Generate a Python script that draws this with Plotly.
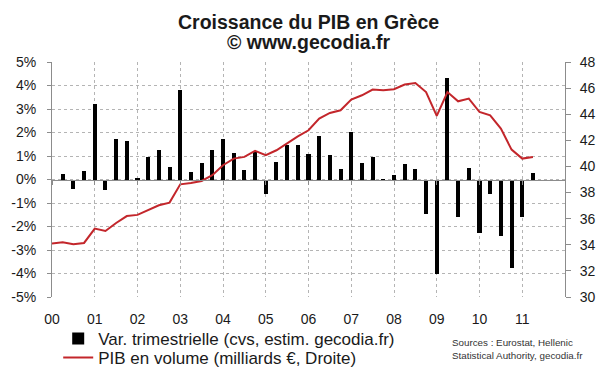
import plotly.graph_objects as go

# ---- Data ----
years = list(range(2000, 2012))
quarters = [f"{y}T{q}" for y in years for q in range(1, 5)][:46]  # 2000T1 .. 2011T2
year_ticks = [f"{y}T1" for y in years]
year_labels = ["00", "01", "02", "03", "04", "05", "06", "07", "08", "09", "10", "11"]

growth_pct = [None, 0.25, -0.42, 0.36, 3.20, -0.46, 1.74, 1.64, 0.08, 0.96, 1.24, 0.53,
              3.82, 0.33, 0.70, 1.24, 1.74, 1.14, 0.42, 1.17, -0.63, 0.75, 1.46, 1.46,
              1.10, 1.84, 1.06, 0.43, 2.02, 0.70, 0.96, -0.08, 0.18, 0.66, 0.43, -1.45,
              -4.03, 4.34, -1.59, 0.49, -2.27, -0.60, -2.40, -3.75, -1.59, 0.28]

gdp_bn = [34.10, 34.20, 34.04, 34.14, 35.24, 35.06, 35.67, 36.20, 36.29, 36.64, 37.03, 37.23,
          38.63, 38.73, 38.89, 39.33, 40.09, 40.60, 40.73, 41.19, 40.86, 41.24, 41.80, 42.31,
          42.77, 43.67, 44.10, 44.30, 45.12, 45.45, 45.89, 45.83, 45.91, 46.27, 46.39, 45.70,
          43.87, 45.70, 44.99, 45.20, 44.17, 43.92, 42.90, 41.29, 40.60, 40.73]

left_ticks = [5, 4, 3, 2, 1, 0, -1, -2, -3, -4, -5]
left_labels = ["5%", "4%", "3%", "2%", "1%", "0%", "-1%", "-2%", "-3%", "-4%", "-5%"]
right_ticks = [30, 32, 34, 36, 38, 40, 42, 44, 46, 48]

FONT = "Liberation Sans, Arial, sans-serif"
AXIS_GRAY = "#8c8c8c"
GRID_GRAY = "#b4b4b4"
RED = "#c3262b"
TXT = "#1a1a1a"

fig = go.Figure()
fig.add_trace(go.Bar(
    x=quarters, y=growth_pct, name="Var. trimestrielle (cvs, estim. gecodia.fr)",
    marker=dict(color="black", line=dict(width=0)), width=0.38,
    xaxis="x", yaxis="y", legend="legend",
))
fig.add_trace(go.Scatter(
    x=quarters, y=gdp_bn, name="PIB en volume (milliards €, Droite)",
    mode="lines", line=dict(color=RED, width=2),
    xaxis="x2", yaxis="y2", legend="legend2",
))

common_x = dict(type="category", categoryorder="array", categoryarray=quarters,
                range=[0, 48], tickvals=year_ticks, ticktext=year_labels, tickangle=0)

legend_common = dict(xref="container", yref="container", x=0.097,
                     xanchor="left", yanchor="middle", orientation="v",
                     font=dict(size=17, color=TXT), bgcolor="rgba(0,0,0,0)",
                     itemclick=False, itemdoubleclick=False)

fig.update_layout(
    width=600, height=372,
    margin=dict(l=52, r=35, t=62, b=75, autoexpand=False),
    paper_bgcolor="white", plot_bgcolor="white",
    font=dict(family=FONT, size=14, color=TXT),
    showlegend=True,
    bargap=0,
    xaxis=dict(**common_x, showgrid=True, gridcolor=GRID_GRAY, griddash="dot", gridwidth=1,
               showline=False, ticks="", zeroline=False,
               tickfont=dict(size=14, color=TXT), ticklabelstandoff=12),
    xaxis2=dict(**common_x, overlaying="x", anchor="free", position=0.5, side="bottom",
                showgrid=False, showline=True, linecolor=AXIS_GRAY, linewidth=1,
                ticks="outside", ticklen=4, tickcolor=AXIS_GRAY, showticklabels=False,
                zeroline=False),
    yaxis=dict(range=[-5, 5], tickvals=left_ticks, ticktext=left_labels,
               showgrid=True, gridcolor=GRID_GRAY, griddash="dot", gridwidth=1,
               zeroline=False, showline=True, linecolor=AXIS_GRAY, linewidth=1,
               ticks="outside", ticklen=4, tickcolor=AXIS_GRAY,
               tickfont=dict(size=14, color=TXT), ticklabelstandoff=8),
    yaxis2=dict(range=[30, 48], tickvals=right_ticks, overlaying="y", side="right",
                anchor="x", showgrid=False, zeroline=False, showline=True,
                linecolor=AXIS_GRAY, linewidth=1, ticks="outside", ticklen=5,
                tickcolor=AXIS_GRAY, tickfont=dict(size=14, color=TXT),
                ticklabelstandoff=6),
    legend=dict(**legend_common, y=1 - 339 / 372),
    legend2=dict(**legend_common, y=1 - 358 / 372),
    annotations=[
        dict(text="<b>Croissance du PIB en Grèce</b>", xref="paper", yref="paper",
             x=0.5, y=(297 - 22) / 235, xanchor="center", yanchor="middle",
             showarrow=False, font=dict(size=19.5, color=TXT)),
        dict(text="<b>© www.gecodia.fr</b>", xref="paper", yref="paper",
             x=0.5, y=(297 - 41.5) / 235, xanchor="center", yanchor="middle",
             showarrow=False, font=dict(size=19.5, color=TXT)),
        dict(text="Sources : Eurostat, Hellenic", xref="paper", yref="paper",
             x=(450 - 52) / 513, y=(297 - 342.5) / 235, xanchor="left", yanchor="middle",
             showarrow=False, font=dict(size=9.8, color="#333333")),
        dict(text="Statistical Authority, gecodia.fr", xref="paper", yref="paper",
             x=(450 - 52) / 513, y=(297 - 355.5) / 235, xanchor="left", yanchor="middle",
             showarrow=False, font=dict(size=9.8, color="#333333")),
    ],
)

fig.write_html("out.html", config={"displayModeBar": False},
               post_script="document.body.style.margin='0';")
